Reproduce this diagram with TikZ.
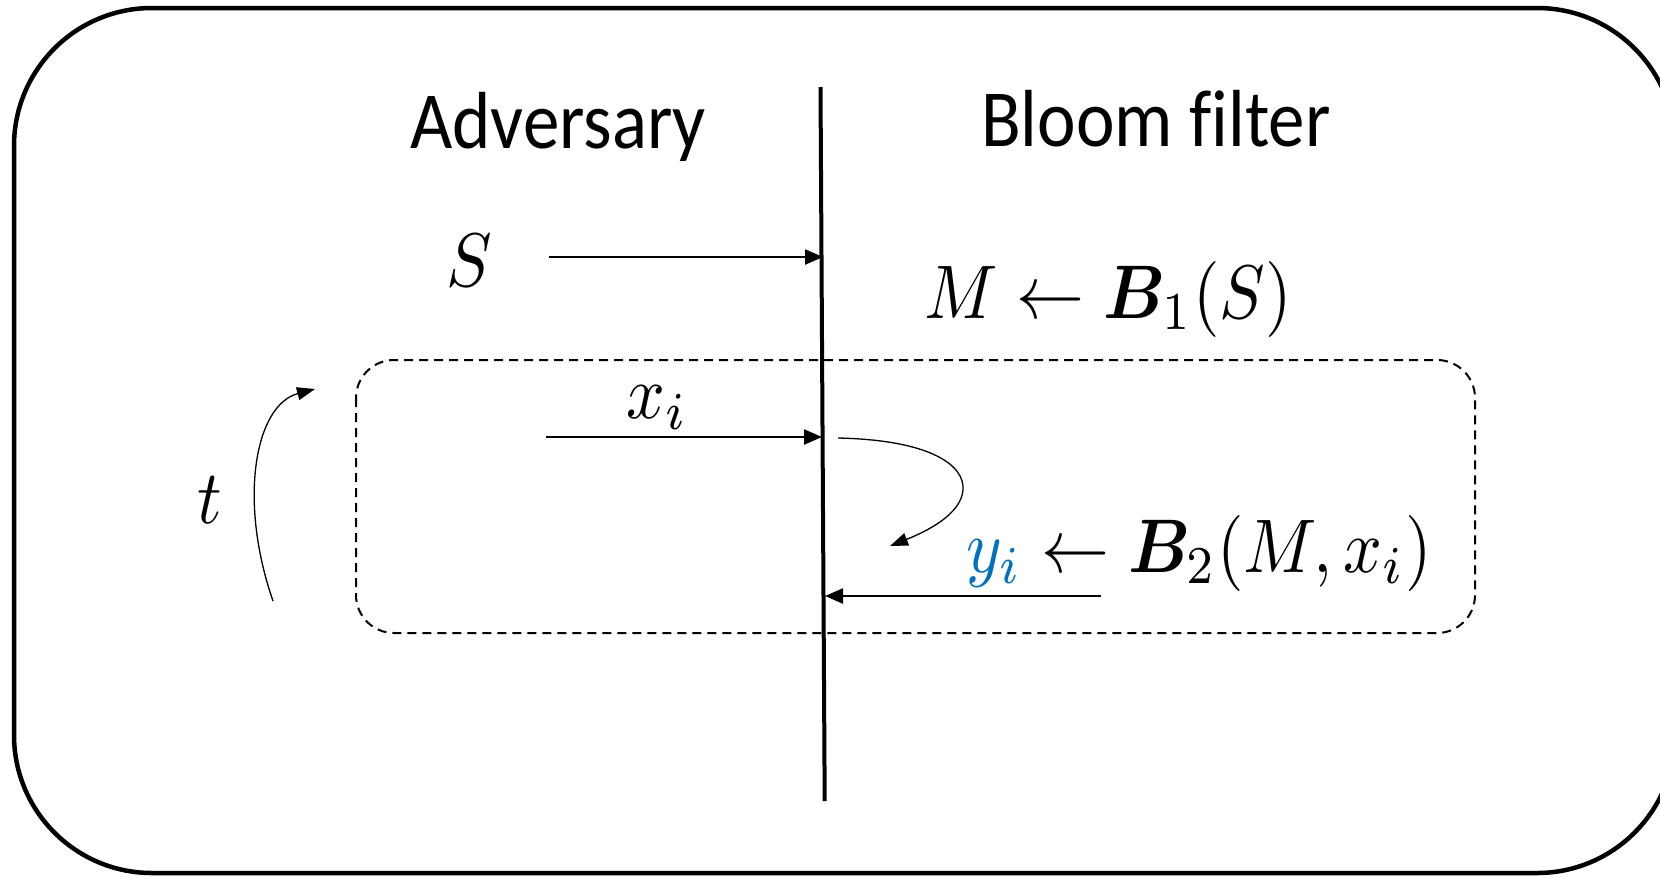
\documentclass[tikz,border=0pt]{standalone}
\usepackage{fontspec}
\setmainfont{Carlito}[Ligatures=NoCommon]
\usepackage{amsmath}
\usepackage{bm}
\usetikzlibrary{arrows.meta}
\definecolor{qblue}{RGB}{0,112,192}
\begin{document}
\begin{tikzpicture}[x=1pt,y=-1pt,
  lbl/.style={inner sep=0,anchor=base,font=\fontsize{10}{12}\selectfont,xscale=7.3,yscale=8.1},
  mth/.style={inner sep=0,anchor=base,xscale=6.8,yscale=7.6},
  arr/.style={line width=2.3pt,-{Triangle[length=18pt,width=15pt]}},
  carr/.style={line width=1.3pt,-{Triangle[length=18pt,width=13pt]}},
  frame/.style={line width=4.5pt,rounded corners=138pt},
  loopbox/.style={line width=2pt,dash pattern=on 9pt off 6pt,rounded corners=38pt},
  divider/.style={line width=4pt}]
\clip (0,0) rectangle (1660,876);
\draw[frame] (14,8) rectangle (1675,873);
\draw[loopbox] (356,360) rectangle (1475,633);
\coordinate (vt) at (820.5,87);
\coordinate (vb) at (824.7,801);
\draw[divider] (vt) -- (vb);
\node[lbl] (adv) at (558,148) {Adversary};
\node[lbl] (bf) at (1156,146) {Bloom f\kern0pt ilter};
\node[mth] (S) at (469,286) {$S$};
\node[mth] (M) at (1108,318) {$M \leftarrow \bm{B}_1(S)$};
\node[mth] (xi) at (657,418) {$x_i$};
\node[mth] (yi) at (1199,572) {$\textcolor{qblue}{y_i} \leftarrow \bm{B}_2(M,x_i)$};
\node[mth] (t) at (210,523) {$t$};
\coordinate (s1) at (549,257); \coordinate (s2) at (823,257);
\draw[arr] (s1) -- (s2);
\coordinate (x1) at (546,437); \coordinate (x2) at (822,437);
\draw[arr] (x1) -- (x2);
\coordinate (c1) at (838,438); \coordinate (c2) at (890,546);
\draw[carr] (c1) .. controls (930,440) and (965,465) .. (963,490) .. controls (961,515) and (925,532) .. (c2);
\coordinate (r1) at (1101,596); \coordinate (r2) at (825,596);
\draw[arr] (r1) -- (r2);
\coordinate (t1) at (273,601); \coordinate (t2) at (315,389);
\draw[carr] (t1) .. controls (238,500) and (255,405) .. (t2);
\end{tikzpicture}
\end{document}
